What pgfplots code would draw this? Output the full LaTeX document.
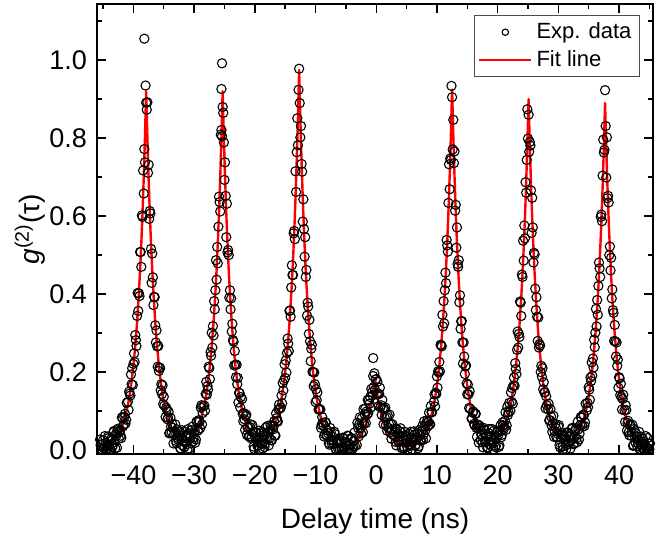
\documentclass[border=0pt]{standalone}
\usepackage{pgfplots}
\pgfplotsset{compat=1.18}
\usepackage{fontspec}
\setmainfont{Liberation Sans}
\begin{document}
\begin{tikzpicture}
\path[use as bounding box] (-48.5pt,-42pt) rectangle (281.5pt,227pt);
\begin{axis}[
  at={(0,0)}, anchor=south west,
  scale only axis, width=278pt, height=225pt,
  xmin=-46, xmax=45.6, ymin=-0.01, ymax=1.144,
  axis line style={line width=0.7pt},
  xtick={-40,-30,-20,-10,0,10,20,30,40},
  xticklabels={−40,−30,−20,−10,0,10,20,30,40},
  minor xtick={-45,-35,-25,-15,-5,5,15,25,35,45},
  ytick={0,0.2,0.4,0.6,0.8,1.0},
  yticklabels={0.0,0.2,0.4,0.6,0.8,1.0},
  minor ytick={0.1,0.3,0.5,0.7,0.9,1.1},
  tick align=inside,
  major tick length=4.5pt, minor tick length=2.7pt,
  every tick/.style={line width=0.7pt, black},
  tick label style={font=\fontsize{13.5}{16}\selectfont},
  xticklabel style={yshift=-2.5pt},
  yticklabel style={xshift=-1.5pt},
  xlabel={Delay time (ns)},
  ylabel={\textit{g}\textsuperscript{(2)}(τ)},
  every axis x label/.style={at={(axis description cs:0.5,0)}, yshift=-37pt, anchor=base, font=\fontsize{14}{16}\selectfont},
  every axis y label/.style={at={(axis description cs:0,0.5)}, xshift=-33.5pt, rotate=90, anchor=center, font=\fontsize{14}{16}\selectfont},
  legend style={at={(0.9766,0.975)}, anchor=north east,
    draw=black!70, line width=0.5pt, font=\fontsize{11}{13}\selectfont,
    inner xsep=2pt, inner ysep=1.5pt, row sep=0.5pt},
  legend cell align=left,
]
\addplot[only marks, mark=o, mark size=2.3pt, black, mark options={line width=0.55pt},
  legend image code/.code={\draw[black, mark=o, mark size=1.6pt, line width=0.5pt] plot coordinates {(13pt,0pt)};}]
coordinates {
(-45.5,.027)(-45.3,.002)(-45.1,.016)(-44.9,.005)(-44.7,.036)(-44.5,.002)(-44.3,.011)(-44.1,.031)(-43.9,.002)(-43.7,.023)(-43.5,.007)(-43.3,.046)(-43.1,.021)(-42.9,.041)(-42.7,.006)(-42.5,.055)(-42.3,.046)(-42.1,.037)(-41.9,.084)(-41.7,.061)(-41.5,.085)(-41.3,.068)(-41.1,.121)
(-45.4,.013)(-45.2,.002)(-45.0,.025)(-44.8,.004)(-44.6,.018)(-44.4,.002)(-44.2,.035)(-44.0,.014)(-43.8,.002)(-43.6,.031)(-43.4,.012)(-43.2,.049)(-43.0,.005)(-42.8,.037)(-42.6,.053)(-42.4,.029)(-42.2,.051)(-42.0,.031)(-41.8,.082)(-41.6,.065)(-41.4,.093)(-41.2,.078)
(-40.9,.124)(-40.8,.103)(-40.7,.150)(-40.6,.145)(-40.5,.140)(-40.4,.194)(-40.3,.169)(-40.2,.210)(-40.1,.167)(-40.0,.221)(-39.9,.248)(-39.8,.226)(-39.7,.295)(-39.6,.282)(-39.5,.267)(-39.4,.344)(-39.3,.403)(-39.2,.357)(-39.1,.402)(-39.0,.395)(-38.9,.508)(-38.8,.508)(-38.7,.470)(-38.6,.602)(-38.5,.598)(-38.4,.717)(-38.3,.658)(-38.2,.772)(-38.1,.738)(-38.0,.935)(-37.9,.891)(-37.8,.873)(-37.7,.892)(-37.6,.711)(-37.5,.732)(-37.4,.593)(-37.3,.613)(-37.2,.607)(-37.1,.516)(-37.0,.429)(-36.9,.504)(-36.8,.443)(-36.7,.372)(-36.6,.393)(-36.5,.392)(-36.4,.320)(-36.3,.276)(-36.2,.307)(-36.1,.266)(-36.0,.214)(-35.9,.267)(-35.8,.203)(-35.7,.212)(-35.6,.210)(-35.5,.153)(-35.4,.169)(-35.3,.144)(-35.2,.166)(-35.1,.118)(-35.0,.137)(-34.9,.114)(-38.2,1.055)
(-34.7,.085)(-34.5,.104)(-34.3,.083)(-34.1,.043)(-33.9,.083)(-33.7,.046)(-33.5,.057)(-33.3,.040)(-33.1,.066)(-32.9,.018)(-32.7,.031)(-32.5,.047)(-32.3,.005)(-32.1,.031)(-31.9,.012)(-31.7,.048)(-31.5,.020)(-31.3,.036)(-31.1,.002)(-30.9,.043)(-30.7,.031)(-30.5,.017)(-30.3,.060)(-30.1,.032)(-29.9,.050)(-29.7,.027)(-29.5,.074)(-29.3,.051)(-29.1,.073)(-28.9,.109)(-28.7,.066)(-28.5,.113)
(-34.6,.109)(-34.4,.079)(-34.2,.098)(-34.0,.045)(-33.8,.060)(-33.6,.067)(-33.4,.017)(-33.2,.048)(-33.0,.024)(-32.8,.053)(-32.6,.026)(-32.4,.038)(-32.2,.004)(-32.0,.051)(-31.8,.024)(-31.6,.008)(-31.4,.038)(-31.2,.015)(-31.0,.054)(-30.8,.004)(-30.6,.036)(-30.4,.051)(-30.2,.022)(-30.0,.044)(-29.8,.019)(-29.6,.073)(-29.4,.050)(-29.2,.077)(-29.0,.056)(-28.8,.115)(-28.6,.095)
(-28.3,.114)(-28.2,.101)(-28.1,.144)(-28.0,.175)(-27.9,.142)(-27.8,.164)(-27.7,.155)(-27.6,.214)(-27.5,.210)(-27.4,.182)(-27.3,.251)(-27.2,.242)(-27.1,.301)(-27.0,.263)(-26.9,.318)(-26.8,.294)(-26.7,.382)(-26.6,.361)(-26.5,.410)(-26.4,.487)(-26.3,.437)(-26.2,.521)(-26.1,.479)(-26.0,.573)(-25.9,.650)(-25.8,.636)(-25.7,.612)(-25.6,.809)(-25.5,.821)(-25.4,.805)(-25.3,.880)(-25.2,.865)(-25.1,.789)(-25.0,.693)(-24.9,.738)(-24.8,.652)(-24.7,.546)(-24.6,.632)(-24.5,.507)(-24.4,.513)(-24.3,.500)(-24.2,.391)(-24.1,.410)(-24.0,.361)(-23.9,.389)(-23.8,.304)(-23.7,.324)(-23.6,.282)(-23.5,.278)(-23.4,.217)(-23.3,.254)(-23.2,.219)(-23.1,.187)(-23.0,.219)(-22.9,.169)(-22.8,.185)(-22.7,.122)(-22.6,.147)(-22.5,.146)(-22.4,.109)(-22.3,.136)(-25.5,.926)(-25.4,.992)
(-22.1,.131)(-21.9,.074)(-21.7,.079)(-21.5,.087)(-21.3,.039)(-21.1,.060)(-20.9,.035)(-20.7,.066)(-20.5,.034)(-20.3,.046)(-20.1,.003)(-19.9,.045)(-19.7,.029)(-19.5,.011)(-19.3,.050)(-19.1,.018)(-18.9,.032)(-18.7,.004)(-18.5,.045)(-18.3,.017)(-18.1,.034)(-17.9,.062)(-17.7,.012)(-17.5,.050)(-17.3,.026)(-17.1,.063)(-16.9,.061)(-16.7,.038)(-16.5,.094)(-16.3,.075)(-16.1,.105)(-15.9,.106)
(-22.0,.093)(-21.8,.095)(-21.6,.052)(-21.4,.091)(-21.2,.058)(-21.0,.035)(-20.8,.059)(-20.6,.030)(-20.4,.064)(-20.2,.009)(-20.0,.036)(-19.8,.046)(-19.6,.012)(-19.4,.029)(-19.2,.003)(-19.0,.046)(-18.8,.016)(-18.6,.037)(-18.4,.008)(-18.2,.058)(-18.0,.028)(-17.8,.045)(-17.6,.030)(-17.4,.064)(-17.2,.025)(-17.0,.053)(-16.8,.074)(-16.6,.037)(-16.4,.082)(-16.2,.073)(-16.0,.117)
(-15.7,.109)(-15.6,.140)(-15.5,.120)(-15.4,.172)(-15.3,.153)(-15.2,.179)(-15.1,.220)(-15.0,.185)(-14.9,.230)(-14.8,.199)(-14.7,.249)(-14.6,.286)(-14.5,.273)(-14.4,.254)(-14.3,.357)(-14.2,.358)(-14.1,.342)(-14.0,.417)(-13.9,.474)(-13.8,.449)(-13.7,.449)(-13.6,.556)(-13.5,.562)(-13.4,.541)(-13.3,.715)(-13.2,.662)(-13.1,.764)(-13.0,.851)(-12.9,.782)(-12.8,.924)(-12.7,.978)(-12.6,.890)(-12.5,.802)(-12.4,.831)(-12.3,.734)(-12.2,.714)(-12.1,.586)(-12.0,.643)(-11.9,.567)(-11.8,.496)(-11.7,.546)(-11.6,.444)(-11.5,.462)(-11.4,.345)(-11.3,.378)(-11.2,.368)(-11.1,.298)(-11.0,.334)(-10.9,.279)(-10.8,.228)(-10.7,.260)(-10.6,.270)(-10.5,.201)(-10.4,.200)(-10.3,.164)(-10.2,.199)(-10.1,.169)(-10.0,.123)(-9.9,.156)(-9.8,.128)(-9.7,.148)
(-9.5,.104)(-9.3,.105)(-9.1,.057)(-8.9,.085)(-8.7,.064)(-8.5,.041)(-8.3,.071)(-8.1,.037)(-7.9,.043)(-7.7,.014)(-7.5,.046)(-7.3,.016)(-7.1,.026)(-6.9,.047)(-6.7,.003)(-6.5,.025)(-6.3,.004)(-6.1,.026)(-5.9,.017)(-5.7,.002)(-5.5,.032)(-5.3,.004)(-5.1,.020)(-4.9,.010)(-4.7,.037)(-4.5,.003)(-4.3,.014)(-4.1,.031)(-3.9,.003)(-3.7,.024)(-3.5,.010)
(-9.4,.106)(-9.2,.104)(-9.0,.064)(-8.8,.070)(-8.6,.035)(-8.4,.071)(-8.2,.038)(-8.0,.050)(-7.8,.018)(-7.6,.057)(-7.4,.025)(-7.2,.034)(-7.0,.016)(-6.8,.041)(-6.6,.002)(-6.4,.017)(-6.2,.028)(-6.0,.002)(-5.8,.020)(-5.6,.003)(-5.4,.030)(-5.2,.007)(-5.0,.021)(-4.8,.002)(-4.6,.036)(-4.4,.014)(-4.2,.002)(-4.0,.029)(-3.8,.009)(-3.6,.045)
(-3.2,.013)(-3.1,.070)(-3.0,.057)(-2.9,.035)(-2.8,.066)(-2.7,.084)(-2.6,.056)(-2.5,.043)(-2.4,.081)(-2.3,.069)(-2.2,.046)(-2.1,.105)(-2.0,.068)(-1.9,.092)(-1.8,.107)(-1.7,.069)(-1.6,.099)(-1.5,.091)(-1.4,.129)(-1.3,.095)(-1.2,.128)(-1.1,.119)(-1.0,.136)(-0.9,.109)(-0.8,.157)(-0.7,.148)(-0.6,.140)(-0.5,.190)(-0.4,.162)(-0.3,.197)(-0.2,.155)(-0.1,.181)(0.0,.182)(0.1,.143)(0.2,.175)(0.3,.144)(0.4,.113)(0.5,.144)(0.6,.160)(0.7,.110)(0.8,.115)(0.9,.090)(1.0,.129)(1.1,.107)(1.2,.066)(1.3,.106)(1.4,.083)(1.5,.109)(1.6,.064)(1.7,.085)(1.8,.050)(1.9,.089)(2.0,.057)(2.1,.067)(2.2,.091)(2.3,.045)(2.4,.068)(2.5,.029)(2.6,.052)(2.7,.066)(2.8,.039)(-0.5,.236)
(3.0,.048)(3.2,.021)(3.4,.054)(3.6,.024)(3.8,.035)(4.0,.056)(4.2,.005)(4.4,.034)(4.6,.008)(4.8,.037)(5.0,.027)(5.2,.002)(5.4,.042)(5.6,.015)(5.8,.031)(6.0,.021)(6.2,.048)(6.4,.011)(6.6,.026)(6.8,.043)(7.0,.010)(7.2,.038)(7.4,.025)(7.6,.062)(7.8,.040)(8.0,.061)(8.2,.030)(8.4,.076)(8.6,.072)(8.8,.066)(9.0,.113)(9.2,.097)
(3.1,.054)(3.3,.012)(3.5,.042)(3.7,.021)(3.9,.048)(4.1,.024)(4.3,.035)(4.5,.005)(4.7,.047)(4.9,.024)(5.1,.008)(5.3,.035)(5.5,.013)(5.7,.047)(5.9,.002)(6.1,.028)(6.3,.040)(6.5,.013)(6.7,.030)(6.9,.005)(7.1,.051)(7.3,.027)(7.5,.049)(7.7,.026)(7.9,.074)(8.1,.051)(8.3,.069)(8.5,.061)(8.7,.096)(8.9,.066)(9.1,.098)
(9.5,.124)(9.6,.143)(9.7,.112)(9.8,.147)(9.9,.144)(10.0,.189)(10.1,.160)(10.2,.202)(10.3,.199)(10.4,.226)(10.5,.202)(10.6,.270)(10.7,.269)(10.8,.266)(10.9,.347)(11.0,.317)(11.1,.382)(11.2,.325)(11.3,.410)(11.4,.455)(11.5,.428)(11.6,.539)(11.7,.525)(11.8,.509)(11.9,.634)(12.0,.733)(12.1,.669)(12.2,.748)(12.3,.744)(12.4,.934)(12.5,.905)(12.6,.771)(12.7,.847)(12.8,.736)(12.9,.766)(13.0,.614)(13.1,.629)(13.2,.519)(13.3,.571)(13.4,.477)(13.5,.470)(13.6,.487)(13.7,.379)(13.8,.397)(13.9,.311)(14.0,.330)(14.1,.331)(14.2,.276)(14.3,.222)(14.4,.276)(14.5,.240)(14.6,.195)(14.7,.215)(14.8,.217)(14.9,.171)(15.0,.143)(15.1,.168)(15.2,.143)(15.3,.108)(15.4,.151)(15.5,.106)
(15.7,.081)(15.9,.096)(16.1,.067)(16.3,.093)(16.5,.057)(16.7,.066)(16.9,.019)(17.1,.058)(17.3,.040)(17.5,.020)(17.7,.057)(17.9,.023)(18.1,.035)(18.3,.005)(18.5,.044)(18.7,.014)(18.9,.028)(19.1,.054)(19.3,.002)(19.5,.037)(19.7,.011)(19.9,.045)(20.1,.038)(20.3,.012)(20.5,.064)(20.7,.039)(20.9,.064)(21.1,.059)(21.3,.097)(21.5,.063)(21.7,.090)(21.9,.121)
(15.8,.081)(16.0,.099)(16.2,.064)(16.4,.093)(16.6,.034)(16.8,.057)(17.0,.063)(17.2,.026)(17.4,.040)(17.6,.007)(17.8,.052)(18.0,.020)(18.2,.038)(18.4,.007)(18.6,.054)(18.8,.022)(19.0,.036)(19.2,.019)(19.4,.050)(19.6,.008)(19.8,.032)(20.0,.049)(20.2,.008)(20.4,.048)(20.6,.033)(20.8,.071)(21.0,.054)(21.2,.075)(21.4,.052)(21.6,.111)(21.8,.097)
(22.1,.101)(22.2,.148)(22.3,.124)(22.4,.159)(22.5,.119)(22.6,.165)(22.7,.186)(22.8,.165)(22.9,.223)(23.0,.208)(23.1,.195)(23.2,.257)(23.3,.304)(23.4,.263)(23.5,.298)(23.6,.290)(23.7,.381)(23.8,.378)(23.9,.344)(24.0,.450)(24.1,.444)(24.2,.537)(24.3,.486)(24.4,.576)(24.5,.543)(24.6,.687)(24.7,.660)(24.8,.744)(24.9,.874)(25.0,.799)(25.1,.860)(25.2,.765)(25.3,.790)(25.4,.781)(25.5,.666)(25.6,.557)(25.7,.647)(25.8,.571)(25.9,.481)(26.0,.506)(26.1,.502)(26.2,.414)(26.3,.359)(26.4,.392)(26.5,.342)(26.6,.280)(26.7,.340)(26.8,.263)(26.9,.272)(27.0,.268)(27.1,.200)(27.2,.216)(27.3,.188)(27.4,.210)(27.5,.156)(27.6,.174)(27.7,.148)(27.8,.148)(27.9,.107)(28.0,.138)(28.1,.115)
(28.3,.105)(28.5,.076)(28.7,.105)(28.9,.063)(29.1,.069)(29.3,.034)(29.5,.067)(29.7,.032)(29.9,.042)(30.1,.064)(30.3,.007)(30.5,.039)(30.7,.009)(30.9,.039)(31.1,.028)(31.3,.002)(31.5,.046)(31.7,.016)(31.9,.035)(32.1,.025)(32.3,.057)(32.5,.015)(32.7,.034)(32.9,.056)(33.1,.020)(33.3,.053)(33.5,.042)(33.7,.085)(33.9,.065)(34.1,.091)(34.3,.062)(34.5,.119)
(28.4,.119)(28.6,.077)(28.8,.086)(29.0,.047)(29.2,.088)(29.4,.049)(29.6,.057)(29.8,.034)(30.0,.060)(30.2,.013)(30.4,.032)(30.6,.044)(30.8,.002)(31.0,.033)(31.2,.012)(31.4,.044)(31.6,.020)(31.8,.035)(32.0,.004)(32.2,.054)(32.4,.030)(32.6,.017)(32.8,.050)(33.0,.030)(33.2,.073)(33.4,.027)(33.6,.064)(33.8,.083)(34.0,.060)(34.2,.089)(34.4,.071)
(34.7,.102)(34.8,.121)(34.9,.110)(35.0,.161)(35.1,.155)(35.2,.129)(35.3,.186)(35.4,.177)(35.5,.225)(35.6,.191)(35.7,.235)(35.8,.212)(35.9,.283)(36.0,.264)(36.1,.301)(36.2,.362)(36.3,.317)(36.4,.385)(36.5,.347)(36.6,.421)(36.7,.481)(36.8,.466)(36.9,.444)(37.0,.598)(37.1,.604)(37.2,.587)(37.3,.704)(37.4,.796)(37.5,.763)(37.6,.770)(37.7,.923)(37.8,.831)(37.9,.699)(38.0,.802)(38.1,.646)(38.2,.652)(38.3,.635)(38.4,.500)(38.5,.522)(38.6,.461)(38.7,.493)(38.8,.389)(38.9,.412)(39.0,.359)(39.1,.352)(39.2,.280)(39.3,.321)(39.4,.279)(39.5,.240)(39.6,.276)(39.7,.216)(39.8,.232)(39.9,.160)(40.0,.187)(40.1,.184)(40.2,.141)(40.3,.170)(40.4,.136)(40.5,.104)(40.6,.131)(40.7,.142)
(40.9,.102)(41.1,.115)(41.3,.050)(41.5,.075)(41.7,.038)(41.9,.063)(42.1,.047)(42.3,.011)(42.5,.054)(42.7,.020)(42.9,.035)(43.1,.019)(43.3,.047)(43.5,.003)(43.7,.014)(43.9,.030)(44.1,.002)(44.3,.015)(44.5,.003)(44.7,.031)(44.9,.004)(45.1,.017)
(41.0,.072)(41.2,.103)(41.4,.070)(41.6,.046)(41.8,.065)(42.0,.037)(42.2,.065)(42.4,.013)(42.6,.035)(42.8,.043)(43.0,.010)(43.2,.024)(43.4,.002)(43.6,.035)(43.8,.006)(44.0,.022)(44.2,.002)(44.4,.036)(44.6,.006)(44.8,.017)(45.0,.002)
};
\addlegendentry{Exp. data}
\addplot[red, line width=1.2pt, line join=round, mark=none,
  legend image code/.code={\draw[red, line width=1.2pt] (0pt,0pt) -- (26pt,0pt);}]
coordinates {
(-45.5,.005)(-45.0,.007)(-44.4,.010)(-43.9,.015)(-43.4,.021)(-42.9,.029)(-42.4,.041)(-41.9,.058)(-41.4,.082)(-40.9,.116)(-40.6,.143)(-40.3,.176)(-40.0,.216)(-39.7,.266)(-39.4,.327)(-39.1,.402)(-38.9,.462)(-38.7,.530)(-38.5,.608)(-38.3,.698)(-38.1,.801)(-37.9,.920)(-37.7,.801)(-37.5,.698)(-37.3,.608)(-37.1,.530)(-36.9,.462)(-36.7,.402)(-36.4,.327)(-36.1,.266)(-35.8,.216)(-35.5,.176)(-35.2,.143)(-34.9,.117)(-34.4,.084)(-33.9,.061)(-33.4,.045)(-32.9,.034)(-32.4,.028)(-31.6,.024)
(-30.8,.028)(-30.3,.034)(-29.8,.045)(-29.3,.061)(-28.8,.084)(-28.3,.117)(-28.0,.143)(-27.7,.176)(-27.4,.216)(-27.1,.266)(-26.8,.327)(-26.5,.402)(-26.3,.462)(-26.1,.530)(-25.9,.608)(-25.7,.698)(-25.5,.801)(-25.3,.920)(-25.1,.801)(-24.9,.698)(-24.7,.608)(-24.5,.530)(-24.3,.462)(-24.1,.402)(-23.8,.327)(-23.5,.266)(-23.2,.216)(-22.9,.176)(-22.6,.143)(-22.3,.117)(-21.8,.084)(-21.3,.061)(-20.8,.045)(-20.3,.035)(-19.8,.028)(-19.0,.025)
(-18.2,.029)(-17.7,.036)(-17.2,.047)(-16.7,.064)(-16.2,.089)(-15.7,.124)(-15.4,.152)(-15.1,.186)(-14.8,.229)(-14.5,.282)(-14.2,.347)(-13.9,.426)(-13.7,.489)(-13.5,.562)(-13.3,.645)(-13.1,.740)(-12.9,.849)(-12.7,.975)(-12.5,.849)(-12.3,.740)(-12.1,.645)(-11.9,.562)(-11.7,.489)(-11.5,.426)(-11.2,.347)(-10.9,.282)(-10.6,.229)(-10.3,.186)(-10.0,.152)(-9.7,.123)(-9.2,.088)(-8.7,.062)(-8.2,.045)(-7.7,.032)(-7.2,.023)(-6.7,.018)(-6.2,.014)(-5.7,.012)(-5.2,.0115)(-4.7,.012)(-4.2,.0145)(-3.7,.0185)
(-3.2,.025)(-2.9,.030)(-2.6,.036)(-2.3,.044)(-2.0,.0535)(-1.7,.0657)(-1.4,.0809)(-1.2,.0928)(-1.0,.107)(-0.8,.122)(-0.6,.140)(-0.4,.161)(-0.2,.185)(0.0,.161)(0.2,.140)(0.4,.122)(0.6,.107)(0.8,.0928)(1.0,.0809)(1.3,.0657)(1.6,.0535)(1.9,.044)(2.2,.036)(2.5,.030)(2.8,.025)(3.3,.018)(3.8,.014)(4.3,.0115)(4.8,.0105)(5.3,.011)(5.8,.012)(6.3,.015)(6.8,.020)
(7.0,.022)(7.5,.030)(8.0,.042)(8.5,.059)(9.0,.083)(9.5,.117)(9.8,.144)(10.1,.177)(10.4,.217)(10.7,.267)(11.0,.329)(11.3,.404)(11.5,.464)(11.7,.533)(11.9,.612)(12.1,.702)(12.3,.806)(12.5,.925)(12.7,.806)(12.9,.702)(13.1,.612)(13.3,.533)(13.5,.464)(13.7,.404)(14.0,.329)(14.3,.267)(14.6,.217)(14.9,.177)(15.2,.144)(15.5,.117)(16.0,.085)(16.5,.061)(17.0,.045)(17.5,.034)(18.0,.028)(18.8,.024)
(19.6,.027)(20.1,.034)(20.6,.044)(21.1,.060)(21.6,.082)(22.1,.115)(22.4,.140)(22.7,.172)(23.0,.212)(23.3,.260)(23.6,.320)(23.9,.393)(24.1,.452)(24.3,.518)(24.5,.595)(24.7,.683)(24.9,.784)(25.1,.900)(25.3,.784)(25.5,.683)(25.7,.595)(25.9,.518)(26.1,.452)(26.3,.393)(26.6,.320)(26.9,.260)(27.2,.212)(27.5,.172)(27.8,.140)(28.1,.115)(28.6,.082)(29.1,.060)(29.6,.044)(30.1,.033)(30.6,.027)(31.4,.023)
(32.2,.027)(32.7,.033)(33.2,.043)(33.7,.059)(34.2,.081)(34.7,.113)(35.0,.138)(35.3,.170)(35.6,.209)(35.9,.257)(36.2,.316)(36.5,.389)(36.7,.447)(36.9,.513)(37.1,.588)(37.3,.675)(37.5,.775)(37.7,.890)(37.9,.775)(38.1,.675)(38.3,.588)(38.5,.513)(38.7,.447)(38.9,.389)(39.2,.316)(39.5,.257)(39.8,.209)(40.1,.170)(40.4,.138)(40.7,.112)(41.2,.080)(41.7,.056)(42.2,.040)(42.7,.028)(43.2,.020)(43.7,.014)(44.4,.009)(45.1,.005)
};
\addlegendentry{Fit line}
\end{axis}
\end{tikzpicture}
\end{document}
